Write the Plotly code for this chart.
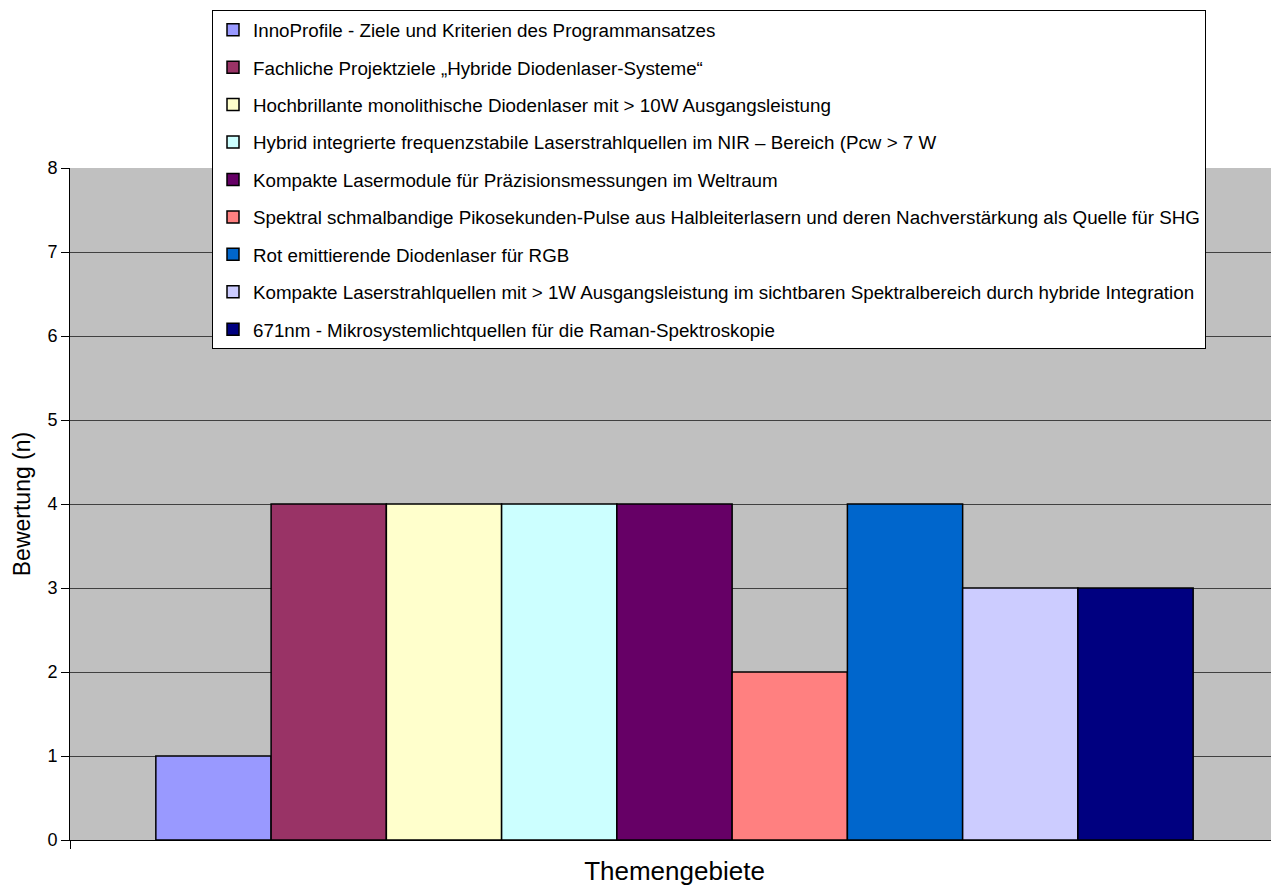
import plotly.graph_objects as go

series_names = [
    "InnoProfile - Ziele und Kriterien des Programmansatzes",
    "Fachliche Projektziele „Hybride Diodenlaser-Systeme“",
    "Hochbrillante monolithische Diodenlaser mit > 10W Ausgangsleistung",
    "Hybrid integrierte frequenzstabile Laserstrahlquellen im NIR – Bereich (Pcw > 7 W",
    "Kompakte Lasermodule für Präzisionsmessungen im Weltraum",
    "Spektral schmalbandige Pikosekunden-Pulse aus Halbleiterlasern und deren Nachverstärkung als Quelle für SHG",
    "Rot emittierende Diodenlaser für RGB",
    "Kompakte Laserstrahlquellen mit > 1W Ausgangsleistung im sichtbaren Spektralbereich durch hybride Integration",
    "671nm - Mikrosystemlichtquellen für die Raman-Spektroskopie",
]
values = [1, 4, 4, 4, 4, 2, 4, 3, 3]
colors = ["#9999FF", "#993366", "#FFFFCC", "#CCFFFF", "#660066",
          "#FF8080", "#0066CC", "#CCCCFF", "#000080"]
y_ticks = [0, 1, 2, 3, 4, 5, 6, 7, 8]

fig = go.Figure()
for i, (name, v, c) in enumerate(zip(series_names, values, colors)):
    fig.add_trace(go.Bar(
        x=[0], y=[v], name=name, legendgroup=f"g{i}",
        marker=dict(color=c, line=dict(color="black", width=1.5)),
    ))

# page body has an 8px margin; plot area target: x 70..1279, y 168..840
W, H = 1271, 882
L, T, B = 62, 160, 50
pw, ph = W - L, H - T - B

fig.update_layout(
    width=W, height=H,
    margin=dict(l=L, r=0, t=T, b=B),
    paper_bgcolor="white", plot_bgcolor="#C0C0C0",
    barmode="group", bargap=0.142, bargroupgap=0,
    font=dict(family="Liberation Sans, Arial, sans-serif", size=18, color="black"),
    legend=dict(
        x=(212 - 70) / pw, y=(840 - 10) / ph,
        xanchor="left", yanchor="top",
        bgcolor="white", bordercolor="black", borderwidth=1,
        font=dict(size=18.8), tracegroupgap=10,
        itemwidth=30,
    ),
    showlegend=True,
)
fig.update_xaxes(range=[-0.5, 0.5], tickvals=[-0.5, 0.5], showticklabels=False,
                 ticks="outside", ticklen=8, tickcolor="black",
                 showgrid=False, zeroline=False, showline=True, linecolor="black",
                 title=dict(text="Themengebiete", font=dict(size=26), standoff=13))
fig.update_yaxes(range=[0, 8], tickvals=y_ticks, showgrid=True, gridcolor="#404040",
                 gridwidth=1, zeroline=False, showline=True, linecolor="black",
                 ticks="outside", ticklen=8, tickcolor="black",
                 tickfont=dict(size=18),
                 title=dict(text="Bewertung (n)", font=dict(size=23), standoff=10))

fig.write_html("out.html")
